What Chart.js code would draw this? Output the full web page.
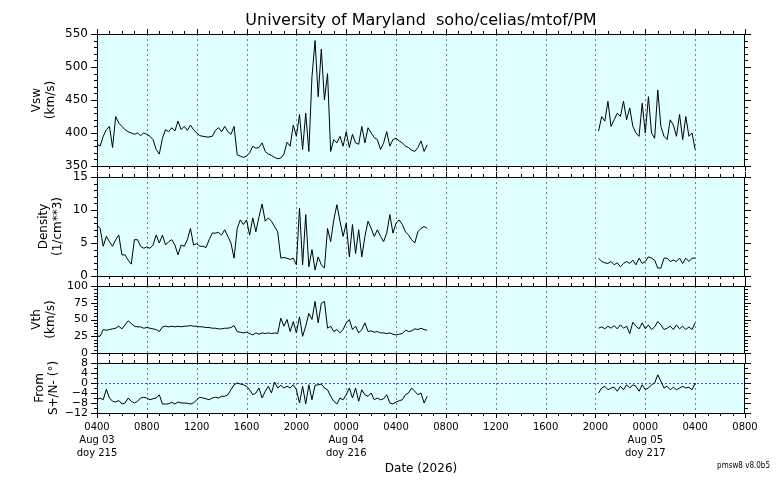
<!DOCTYPE html>
<html>
<head>
<meta charset="utf-8">
<script src="https://cdn.jsdelivr.net/npm/chart.js@4.4.1/dist/chart.umd.min.js"></script>
<style>
html, body { margin: 0; padding: 0; background: #fff; }
#wrap { position: relative; width: 776px; height: 480px; }
#wrap canvas { position: absolute; left: 0; top: 0; }
</style>
</head>
<body>
<div id="wrap">
  <canvas id="vsw" width="776" height="480"></canvas>
  <canvas id="dens" width="776" height="480"></canvas>
  <canvas id="vth" width="776" height="480"></canvas>
  <canvas id="from" width="776" height="480"></canvas>
</div>
<script>
// ---------- Data (15 min samples, hours counted from 00:00 Aug 03) ----------
const segAStart = 4;      // 0400 Aug 03
const segBStart = 44.25;  // 2015 Aug 04
const sampleStep = 0.25;

const vswA = [
    383, 380, 395, 405, 410, 378, 425, 415, 410, 405, 402, 400, 398, 400, 396, 400,
    398, 395, 390, 375, 368, 392, 405, 402, 408, 403, 418, 405, 410, 404, 412, 405,
    400, 396, 395, 394, 394, 395, 404, 408, 402, 410, 402, 398, 410, 367, 365, 363,
    365, 370, 380, 377, 378, 385, 372, 368, 366, 363, 361, 362, 368, 386, 380, 412,
    395, 428, 375, 430, 372, 485, 540, 455, 527, 450, 490, 372, 390, 385, 395, 380,
    402, 378, 398, 385, 383, 410, 385, 408, 400, 393, 390, 375, 385, 402, 380, 390,
    392, 388, 385, 380, 378, 374, 372, 378, 388, 372, 382
];
const vswB = [
    403, 425, 418, 448, 410, 420, 430, 425, 448, 420, 438, 410, 400, 395, 445, 400,
    455, 400, 392, 465, 410, 395, 390, 420, 412, 395, 428, 390, 425, 395, 400, 375
];

const densA = [
    7.7, 7.2, 4.5, 6.0, 5.2, 4.5, 5.5, 6.2, 3.2, 3.2, 2.4, 1.8, 5.5, 5.5, 4.5, 4.2,
    4.4, 4.2, 4.7, 6.2, 5.0, 6.2, 4.7, 5.2, 5.5, 4.7, 3.2, 4.7, 4.5, 5.5, 7.2, 4.7,
    4.9, 4.5, 4.5, 4.3, 5.5, 6.5, 6.5, 6.6, 6.2, 7.0, 6.0, 5.0, 2.7, 7.2, 8.5, 7.8,
    8.5, 6.2, 8.8, 6.7, 9.0, 10.9, 8.3, 8.8, 8.3, 7.5, 6.7, 2.7, 2.8, 2.7, 2.5, 2.7,
    1.7, 10.3, 1.7, 9.3, 1.4, 4.0, 0.9, 2.9, 1.7, 1.2, 7.2, 5.2, 8.5, 10.8, 8.3, 6.0,
    8.0, 2.9, 7.8, 3.4, 7.0, 2.9, 6.0, 8.3, 7.2, 6.0, 7.0, 6.0, 5.2, 6.5, 9.3, 6.5,
    8.0, 8.5, 7.8, 6.7, 6.2, 5.5, 5.0, 6.7, 7.2, 7.5, 7.2
];
const densB = [
    2.7, 2.2, 2.0, 1.9, 2.2, 1.7, 2.0, 1.4, 1.9, 2.2, 1.9, 2.4, 1.7, 2.7, 1.9, 2.2,
    2.9, 2.7, 2.4, 1.2, 1.2, 2.7, 2.7, 2.2, 2.4, 2.2, 2.7, 1.9, 2.7, 2.2, 2.7, 2.7
];

const vthA = [
    25, 25, 35, 34, 35, 36, 37, 40, 36, 42, 48, 44, 40, 39, 39, 37,
    38, 37, 36, 35, 32, 39, 40, 39, 40, 39, 40, 39, 40, 40, 41, 40,
    40, 39, 39, 38, 38, 37, 37, 36, 36, 37, 37, 38, 41, 32, 31, 30,
    31, 29, 27, 30, 28, 30, 29, 30, 29, 30, 29, 52, 40, 50, 32, 47,
    30, 54, 25, 40, 59, 50, 77, 45, 74, 77, 37, 40, 32, 35, 30, 35,
    45, 50, 35, 40, 30, 35, 45, 32, 33, 31, 32, 30, 30, 29, 30, 28,
    27, 28, 29, 34, 32, 33, 36, 35, 37, 35, 34
];
const vthB = [
    37, 39, 36, 40, 37, 41, 36, 42, 37, 40, 29, 46, 40, 36, 45, 36,
    42, 35, 39, 47, 42, 35, 37, 40, 35, 42, 36, 40, 35, 39, 35, 45
];

const fromA = [
    -6.7, -6, -6.7, -2.5, -6, -7.3, -7.6, -7, -8.4, -8, -6, -7.3, -8, -7.3, -6, -5.7,
    -6, -6.7, -6.3, -6, -4.7, -8.4, -8.4, -8.3, -7.7, -8.4, -7.6, -8, -8, -8.1, -8.4, -8,
    -6.7, -5.7, -6, -6.3, -6.7, -6, -5.7, -6, -5.3, -5.3, -4.7, -2.7, -0.7, 0, -0.4, -0.7,
    -1.3, -2.7, -4.7, -4, -2, -6, -3.3, -1.3, -4, 0.4, -2, -0.9, -2, -1.3, -2, -0.7,
    -2.7, -8, -1.3, -8.4, -0.7, -6.7, -0.9, -0.7, -0.4, -2, -2.7, -5.3, -7.3, -8.4, -6, -6.7,
    -4.7, -2, -6, -2, -7.3, -2.7, -4.7, -5.3, -4, -6.7, -6, -6.7, -6.3, -4.7, -8, -8.4,
    -7.6, -7.1, -6.7, -4.7, -4, -2, -3.3, -4.7, -4, -8, -5.3
];
const fromB = [
    -4, -2, -1.3, -2.7, -2, -1.7, -3.3, -1.3, -2.7, -0.7, -2, -0.7, -1.3, -3.3, -0.7, -2.7,
    -2, -0.7, 0, 3.3, 0.7, -2, -1.3, -2.7, -1.7, -2.7, -2, -1.3, -2, -1.7, -2.7, 0
];

// x axis labels
const xMin = 4, xMax = 56;
const tickHours = [4, 8, 12, 16, 20, 24, 28, 32, 36, 40, 44, 48, 52, 56];
const tickTimes = ['0400', '0800', '1200', '1600', '2000', '0000', '0400',
                   '0800', '1200', '1600', '2000', '0000', '0400', '0800'];
const dayHours = [4, 24, 48];
const dayDates = ['Aug 03', 'Aug 04', 'Aug 05'];
const dayDoys = ['doy 215', 'doy 216', 'doy 217'];

const FONT = '"DejaVu Sans", sans-serif';

function toPoints(values, start) {
    return values.map((v, i) => ({ x: start + i * sampleStep, y: v }));
}
function fmtTick(v) {
    return v < 0 ? '\u2212' + Math.abs(v) : String(v);
}

// Panel decoration: background, dotted grid, frame, outward ticks, axis title
const panelDeco = {
    id: 'panelDeco',
    beforeDraw(chart, args, opts) {
        const { ctx, chartArea: { left, top, width, height } } = chart;
        ctx.save();
        ctx.fillStyle = '#e0ffff';
        ctx.fillRect(left, top, width, height);
        ctx.restore();
    },
    beforeDatasetsDraw(chart, args, opts) {
        const { ctx, chartArea: { top, bottom, left, right }, scales: { x, y } } = chart;
        ctx.save();
        ctx.strokeStyle = '#808080';
        ctx.lineWidth = 1;
        ctx.setLineDash([2, 3]);
        tickHours.forEach(h => {
            if (h <= xMin || h >= xMax) return;
            const px = Math.round(x.getPixelForValue(h)) + 0.5;
            ctx.beginPath();
            ctx.moveTo(px, top);
            ctx.lineTo(px, bottom);
            ctx.stroke();
        });
        if (opts.zeroLine) {
            ctx.strokeStyle = 'rgba(40,40,255,.85)';
            ctx.setLineDash([2, 2]);
            const py = Math.round(y.getPixelForValue(0)) + 0.5;
            ctx.beginPath();
            ctx.moveTo(left, py);
            ctx.lineTo(right, py);
            ctx.stroke();
        }
        ctx.restore();
    },
    afterDraw(chart, args, opts) {
        const { ctx, chartArea: { top, bottom, left, right }, scales: { x, y } } = chart;
        ctx.save();
        ctx.strokeStyle = '#000';
        ctx.lineWidth = 1;
        // x ticks every hour, top and bottom, pointing out
        ctx.beginPath();
        for (let h = xMin; h <= xMax; h++) {
            const px = Math.round(x.getPixelForValue(h)) + 0.5;
            const len = h % 4 === 0 ? 5 : 3;
            ctx.moveTo(px, top);
            ctx.lineTo(px, top - len);
            ctx.moveTo(px, bottom);
            ctx.lineTo(px, bottom + len);
        }
        // y ticks, left and right, pointing out
        const steps = Math.round((y.max - y.min) / opts.minor);
        for (let i = 0; i <= steps; i++) {
            const v = y.min + i * opts.minor;
            const py = Math.round(y.getPixelForValue(v)) + 0.5;
            const major = Math.abs(v / opts.major - Math.round(v / opts.major)) < 1e-6;
            const len = major ? 6 : 3;
            ctx.moveTo(left, py);
            ctx.lineTo(left - len, py);
            ctx.moveTo(right, py);
            ctx.lineTo(right + len, py);
        }
        ctx.stroke();
        // frame
        ctx.strokeRect(left + 0.5, top + 0.5, right - left - 1, bottom - top);
        // axis title, two rotated lines
        ctx.fillStyle = '#000';
        ctx.font = '12px ' + FONT;
        ctx.textAlign = 'center';
        ctx.textBaseline = 'middle';
        const cy = (top + bottom) / 2;
        opts.title.forEach((line, i) => {
            ctx.save();
            ctx.translate(opts.titleX[i], cy);
            ctx.rotate(-Math.PI / 2);
            ctx.fillText(line, 0, 0);
            ctx.restore();
        });
        ctx.restore();
    }
};

// Header title and date axis text
const pageText = {
    id: 'pageText',
    afterDraw(chart, args, opts) {
        const { ctx, chartArea: { left, right }, scales: { x } } = chart;
        ctx.save();
        ctx.fillStyle = '#000';
        if (opts.header) {
            ctx.font = '16px ' + FONT;
            ctx.textAlign = 'center';
            ctx.textBaseline = 'alphabetic';
            ctx.fillText('University of Maryland  soho/celias/mtof/PM', (left + right) / 2, 25);
        }
        if (opts.dates) {
            ctx.font = '10px ' + FONT;
            ctx.textAlign = 'center';
            ctx.textBaseline = 'middle';
            tickHours.forEach((h, i) => ctx.fillText(tickTimes[i], x.getPixelForValue(h), 427));
            dayHours.forEach((h, i) => {
                const px = x.getPixelForValue(h);
                ctx.fillText(dayDates[i], px, 440);
                ctx.fillText(dayDoys[i], px, 453);
            });
            ctx.font = '12px ' + FONT;
            ctx.fillText('Date (2026)', (left + right) / 2, 469);
            ctx.font = '8px "DejaVu Sans Condensed", ' + FONT;
            ctx.textAlign = 'right';
            ctx.fillText('pmsw8 v8.0b5', 770, 466);
        }
        ctx.restore();
    }
};

function makePanel(id, p) {
    const line = (values, start) => ({
        data: toPoints(values, start),
        borderColor: '#000',
        borderWidth: 1,
        pointRadius: 0,
        tension: 0,
        fill: false
    });
    new Chart(document.getElementById(id), {
        type: 'line',
        data: { datasets: [line(p.a, segAStart), line(p.b, segBStart)] },
        options: {
            responsive: false,
            animation: false,
            devicePixelRatio: 1,
            events: [],
            layout: { padding: { top: p.top, bottom: 480 - p.bottom, left: 0, right: 31 }, autoPadding: false },
            plugins: {
                legend: { display: false },
                tooltip: { enabled: false },
                panelDeco: { title: p.title, titleX: p.titleX, major: p.step, minor: p.minor, zeroLine: !!p.zeroLine },
                pageText: { header: !!p.header, dates: !!p.dates }
            },
            scales: {
                x: { type: 'linear', min: xMin, max: xMax, display: false },
                y: {
                    min: p.min, max: p.max,
                    afterFit: s => { s.width = 97; },
                    grid: { display: false, drawTicks: false },
                    border: { display: false },
                    ticks: {
                        stepSize: p.step,
                        autoSkip: false,
                        color: '#000',
                        padding: 9,
                        font: { family: 'DejaVu Sans', size: p.fontSize },
                        callback: v => fmtTick(v)
                    }
                }
            }
        },
        plugins: [panelDeco, pageText]
    });
}

makePanel('vsw', { a: vswA, b: vswB, top: 34, bottom: 166, min: 350, max: 550, step: 50, minor: 10,
    fontSize: 12, title: ['Vsw', '(km/s)'], titleX: [37, 51], header: true });
makePanel('dens', { a: densA, b: densB, top: 177, bottom: 276, min: 0, max: 15, step: 5, minor: 1,
    fontSize: 12, title: ['Density', '(1/cm**3)'], titleX: [44, 58] });
makePanel('vth', { a: vthA, b: vthB, top: 286, bottom: 353, min: 0, max: 100, step: 25, minor: 5,
    fontSize: 11, title: ['Vth', '(km/s)'], titleX: [37, 51] });
makePanel('from', { a: fromA, b: fromB, top: 363, bottom: 413, min: -12, max: 8, step: 4, minor: 2,
    fontSize: 11, title: ['From', 'S+/N- (\u00b0)'], titleX: [40, 54], zeroLine: true, dates: true });
</script>
</body>
</html>
